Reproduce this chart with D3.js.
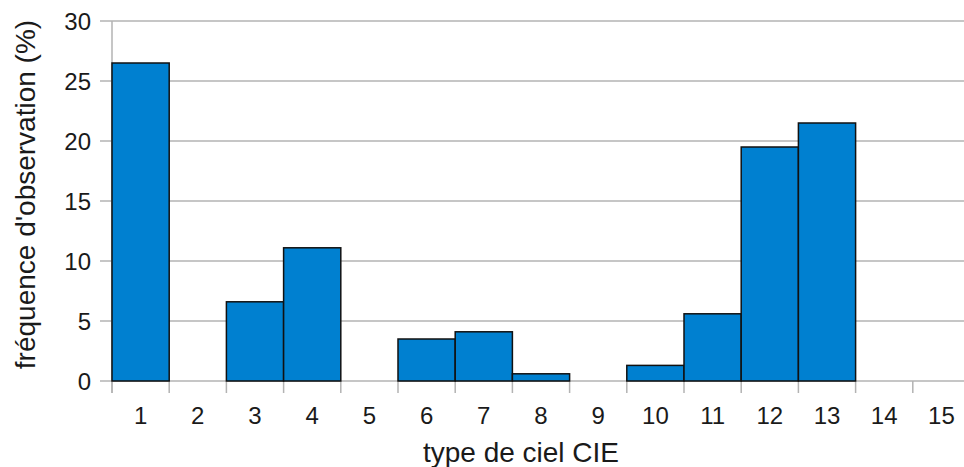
<!DOCTYPE html>
<html><head><meta charset="utf-8">
<script src="https://cdn.jsdelivr.net/npm/d3@7"></script>
<style>body{margin:0;background:#fff;overflow:hidden}text{font-family:"Liberation Sans",Arial,sans-serif;fill:#1a1a1a}</style>
</head><body><svg id="c" width="964" height="467"></svg>
<script>
const categories = ["1","2","3","4","5","6","7","8","9","10","11","12","13","14","15"];
const values = [26.5,0,6.6,11.1,0,3.5,4.1,0.6,0,1.3,5.6,19.5,21.5,0,0];
const yTicks = [0,5,10,15,20,25,30];
const xTitle = "type de ciel CIE";
const yTitle = "fréquence d'observation (%)";

(function(){
const svg = d3.select("#c");
const mLeft = 112, mTop = 21, mBottom = 381, plotW = 858;
const x = d3.scaleBand().domain(categories).range([mLeft, mLeft+plotW]).padding(0);
const y = d3.scaleLinear().domain([0,30]).range([mBottom, mTop]);

// gridlines
svg.append("g").selectAll("line").data(yTicks).join("line")
  .attr("x1", mLeft-12).attr("x2", 964)
  .attr("y1", d=>y(d)).attr("y2", d=>y(d))
  .attr("stroke","#b3b3b3").attr("stroke-width",1.5);
// y axis line
svg.append("line").attr("x1",mLeft).attr("x2",mLeft).attr("y1",mTop).attr("y2",mBottom+12)
  .attr("stroke","#b3b3b3").attr("stroke-width",1.5);
// x ticks at boundaries
const bounds = categories.map(c=>x(c)).concat([mLeft+plotW]);
svg.append("g").selectAll("line").data(bounds).join("line")
  .attr("x1",d=>d).attr("x2",d=>d).attr("y1",mBottom).attr("y2",mBottom+12)
  .attr("stroke","#b3b3b3").attr("stroke-width",1.5);

// y tick labels
svg.append("g").selectAll("text").data(yTicks).join("text")
  .attr("x", 91).attr("y", d=>y(d)+9).attr("text-anchor","end")
  .attr("font-size",24).text(d=>d);
// x tick labels
svg.append("g").selectAll("text").data(categories).join("text")
  .attr("x", d=>x(d)+x.bandwidth()/2).attr("y", 424).attr("text-anchor","middle")
  .attr("font-size",24).text(d=>d);

// bars
svg.append("g").selectAll("rect").data(values.map((v,i)=>({c:categories[i],v})).filter(d=>d.v>0)).join("rect")
  .attr("x", d=>x(d.c)).attr("width", x.bandwidth())
  .attr("y", d=>y(d.v)).attr("height", d=>y(0)-y(d.v))
  .attr("fill","#0080d0").attr("stroke","#111").attr("stroke-width",1.5);

// titles
svg.append("text").attr("x",521).attr("y",462).attr("text-anchor","middle").attr("font-size",28).text(xTitle);
svg.append("text").attr("transform","translate(35,194.5) rotate(-90)").attr("text-anchor","middle").attr("font-size",28).text(yTitle);
})();
</script></body></html>
